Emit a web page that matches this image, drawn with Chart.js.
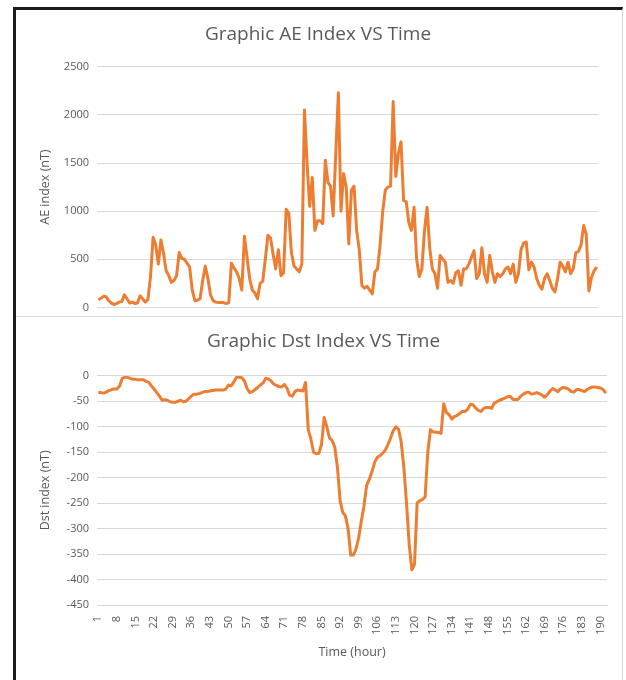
<!DOCTYPE html>
<html lang="en">
<head>
  <meta charset="UTF-8">
  <title>Graphic AE / Dst Index VS Time</title>
  <script src="https://cdn.jsdelivr.net/npm/chart.js@4.4.1/dist/chart.umd.min.js"></script>
  <style>
    body { margin: 0; background: #fff; }
    .frame {
      position: absolute; left: 13px; top: 7px; width: 606px; height: 680px;
      border-top: 3px solid #1b1b1b; border-left: 3px solid #1b1b1b; border-right: 1px solid #d6d6d6;
    }
    .sep { position: absolute; left: 16px; top: 316px; width: 606px; height: 1px; background: #d9d9d9; }
    #aeChart { position: absolute; left: 15px; top: 11px; }
    #dstChart { position: absolute; left: 15px; top: 317px; }
  </style>
</head>
<body>
  <div class="frame"></div>
  <canvas id="aeChart" width="607" height="311"></canvas>
  <div class="sep"></div>
  <canvas id="dstChart" width="607" height="363"></canvas>

<script>
  // AE index (nT), one value per hour
  var aeIndex = [
    80, 95, 115, 110, 70, 45, 30, 40, 55, 60,
    130, 90, 45, 55, 40, 45, 120, 90, 55, 80,
    320, 730, 650, 450, 700, 560, 380, 330, 260, 280,
    330, 570, 510, 500, 460, 420, 180, 70, 75, 90,
    280, 430, 300, 130, 70, 55, 50, 50, 50, 40,
    50, 460, 410, 370, 300, 180, 740, 520, 300, 180,
    150, 90, 250, 270, 500, 750, 720, 550, 400, 600,
    330, 360, 1020, 980, 570, 430, 400, 370, 450, 2050,
    1500, 1050, 1350, 800, 900, 900, 870, 1530, 1300, 1260,
    950, 1600, 2230, 1000, 1390, 1250, 660, 1220, 1260, 800,
    600, 230, 200, 220, 180, 140, 370, 400, 650, 1000,
    1220, 1250, 1260, 2140, 1360, 1600, 1720, 1110, 1100, 880,
    800, 1040, 500, 320, 400, 800, 1040, 620, 400, 350,
    200, 540, 500, 470, 260, 280, 250, 360, 380, 230,
    400, 400, 450, 520, 590, 300, 350, 620, 350, 260,
    540, 370, 260, 350, 320, 350, 400, 420, 350, 450,
    260, 350, 600, 670, 680, 390, 470, 420, 300, 230,
    190, 300, 350, 280, 200, 160, 300, 470, 430, 370,
    470, 350, 400, 570, 580, 650, 850, 760, 170, 310,
    380, 420
  ];

  // Dst index (nT), one value per hour
  var dstIndex = [
    -33, -33, -34, -32, -29, -27, -26, -26, -20, -5,
    -3, -3, -5, -7, -7, -8, -8, -8, -11, -13,
    -20, -26, -33, -40, -48, -47, -48, -51, -52, -52,
    -50, -48, -51, -50, -45, -40, -36, -36, -35, -33,
    -31, -31, -30, -29, -28, -28, -28, -28, -26, -18,
    -20, -12, -3, -3, -4, -10, -25, -33, -31, -27,
    -23, -18, -14, -5, -6, -10, -16, -19, -21, -22,
    -17, -24, -38, -40, -31, -28, -29, -30, -13, -105,
    -124, -150, -153, -152, -135, -82, -100, -122, -127, -140,
    -180, -245, -268, -275, -300, -352, -352, -340, -318, -285,
    -255, -215, -203, -188, -170, -160, -157, -152, -146, -135,
    -122, -108, -100, -105, -130, -180, -250, -330, -381, -370,
    -250, -245, -243, -238, -150, -106, -110, -111, -111, -113,
    -55, -72, -76, -85, -80, -78, -74, -70, -70, -66,
    -56, -57, -63, -68, -70, -64, -62, -62, -64, -54,
    -51, -48, -46, -44, -41, -40, -46, -47, -46, -40,
    -36, -33, -32, -36, -35, -33, -35, -38, -42, -37,
    -30, -25, -28, -31, -25, -23, -24, -26, -31, -32,
    -27, -27, -29, -31, -27, -24, -22, -22, -23, -24,
    -27, -34
  ];

  // hours 1..192, only every 7th one is labelled
  var hours = aeIndex.map(function (v, i) { return i + 1; });
  var tickHours = [1, 8, 15, 22, 29, 36, 43, 50, 57, 64, 71, 78, 85, 92, 99,
                   106, 113, 120, 127, 134, 141, 148, 155, 162, 169, 176, 183, 190];

  var grey = '#595959';
  var gridGrey = '#d9d9d9';
  var orange = '#ED7D31';
  var fam = "'Open Sans', sans-serif";

  function lineSet(data) {
    return {
      data: data,
      borderColor: orange,
      borderWidth: 3,
      pointRadius: 0,
      tension: 0,
      fill: false,
      borderJoinStyle: 'round'
    };
  }

  function yAxis(title, min, max, step) {
    return {
      min: min,
      max: max,
      ticks: {
        stepSize: step, color: grey, font: { family: fam, size: 11 }, padding: 8,
        callback: function (v) { return String(v); }
      },
      grid: { color: gridGrey, drawTicks: false },
      border: { display: false },
      title: { display: true, text: title, color: grey, font: { family: fam, size: 12.5 }, padding: { top: 0, bottom: 4 } },
      afterFit: function (s) { s.width = 59; }
    };
  }

  new Chart(document.getElementById('aeChart'), {
    type: 'line',
    data: { labels: hours, datasets: [lineSet(aeIndex)] },
    options: {
      responsive: false,
      animation: false,
      layout: { padding: { left: 23, right: 24, top: 0, bottom: 4 } },
      plugins: {
        legend: { display: false },
        tooltip: { enabled: false },
        title: {
          display: true, text: 'Graphic AE Index VS Time', color: grey,
          font: { family: fam, size: 19, weight: 'normal' }, padding: { top: 12, bottom: 21 }
        }
      },
      scales: {
        x: {
          offset: true,
          ticks: { display: false },
          grid: { display: false },
          border: { display: false },
          afterFit: function (s) { s.height = 0; }
        },
        y: yAxis('AE index (nT)', 0, 2500, 500)
      }
    }
  });

  new Chart(document.getElementById('dstChart'), {
    type: 'line',
    data: { labels: hours, datasets: [lineSet(dstIndex)] },
    options: {
      responsive: false,
      animation: false,
      layout: { padding: { left: 23, right: 13, top: 0, bottom: 18 } },
      plugins: {
        legend: { display: false },
        tooltip: { enabled: false },
        title: {
          display: true, text: 'Graphic Dst Index VS Time', color: grey,
          font: { family: fam, size: 19, weight: 'normal' }, padding: { top: 13, bottom: 23 }
        }
      },
      scales: {
        x: {
          offset: true,
          ticks: {
            autoSkip: false, minRotation: 90, maxRotation: 90, padding: 3,
            color: grey, font: { family: fam, size: 11 },
            callback: function (v, i) {
              var h = hours[i];
              return tickHours.indexOf(h) >= 0 ? String(h) : '';
            }
          },
          grid: { display: false },
          border: { color: gridGrey },
          title: { display: true, text: 'Time (hour)', color: grey, font: { family: fam, size: 12.5 }, padding: { top: 0, bottom: 2 } },
          afterFit: function (s) { s.height = 57; }
        },
        y: yAxis('Dst index (nT)', -450, 0, 50)
      }
    }
  });
</script>
</body>
</html>
